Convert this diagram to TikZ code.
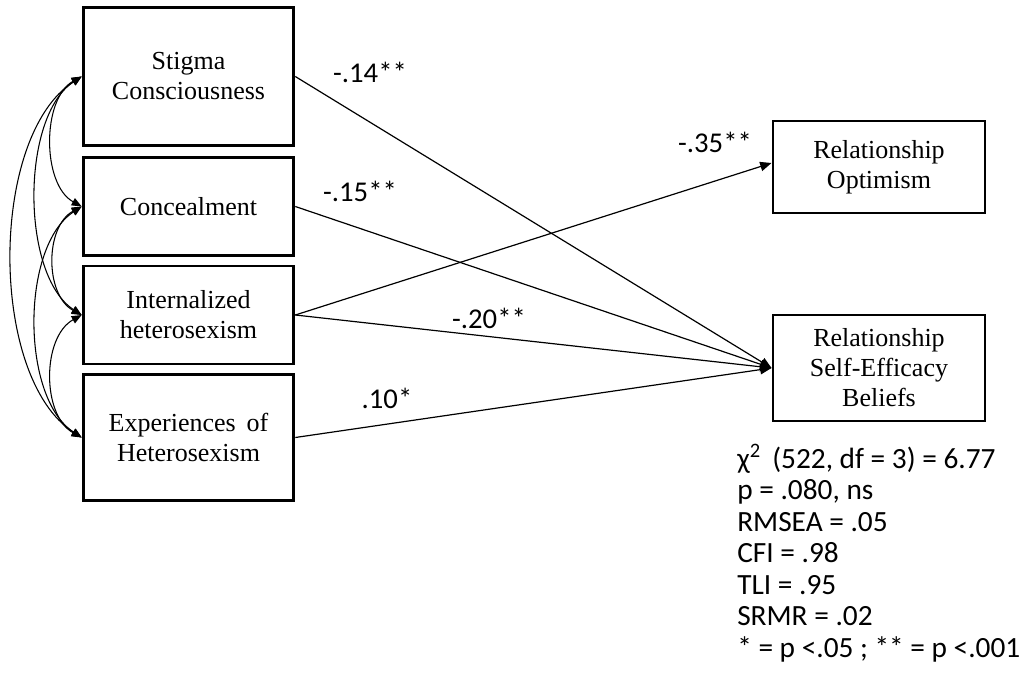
\documentclass[tikz,border=0pt]{standalone}
\usepackage{fontspec}
\setmainfont{Liberation Serif}
\newfontfamily\statfont{Carlito}
\usetikzlibrary{arrows.meta,calc}
\begin{document}
\begin{tikzpicture}[x=0.75pt,y=-0.75pt,
  var/.style={draw,line width=2.2pt,rectangle,align=center,inner sep=2pt,
    font=\fontsize{19.5}{22.5}\selectfont},
  path/.style={line width=0.9pt,-{Triangle[length=8.5pt,width=7pt]}},
  cov/.style={line width=0.8pt,{Triangle[length=7.5pt,width=6pt]}-{Triangle[length=7.5pt,width=6pt]}},
  coef/.style={font=\statfont\fontsize{21.5}{25}\selectfont,inner sep=0pt},
  fitline/.style={font=\statfont\fontsize{22}{25}\selectfont,inner sep=0pt,anchor=base west}]
\useasboundingbox (0,0) rectangle (1026,689);

% exogenous variables
\node[var,minimum width=158pt,minimum height=104pt] (sc) at (188.5,76.5) {Stigma\\Consciousness};
\node[var,minimum width=158pt,minimum height=74pt] (co) at (188.5,206.5) {Concealment};
\node[var,minimum width=158pt,minimum height=73.5pt] (ih) at (188.5,315) {Internalized\\heterosexism};
\node[var,minimum width=158pt,minimum height=95pt] (eh) at (188.5,437.5) {Experiences\, of\\Heterosexism};

% outcomes
\node[var,minimum width=159pt,minimum height=69pt] (ro) at (879,167) {Relationship\\Optimism};
\node[var,minimum width=159pt,minimum height=79.5pt] (se) at (879,368) {Relationship\\Self-Efficacy\\Beliefs};

% covariances among predictors
\draw[cov] (sc.west) .. controls +(-40,22) and +(-40,-22) .. (co.west);
\draw[cov] (sc.west) .. controls +(-61,40) and +(-61,-40) .. (ih.west);
\draw[cov] (sc.west) .. controls +(-93,60) and +(-93,-60) .. (eh.west);
\draw[cov] (co.west) .. controls +(-37,20) and +(-37,-20) .. (ih.west);
\draw[cov] (co.west) .. controls +(-61,40) and +(-61,-40) .. (eh.west);
\draw[cov] (ih.west) .. controls +(-40,22) and +(-40,-22) .. (eh.west);

% structural paths
\draw[path] (sc.east) -- (se.west);
\draw[path] (co.east) -- (se.west);
\draw[path] (ih.east) -- ($(ro.west)+(0,-4)$);
\draw[path] (ih.east) -- (se.west);
\draw[path] (eh.east) -- (se.west);

% path coefficients
\node[coef] (c1) at (370,72) {-.14**};
\node[coef] (c2) at (360,191) {-.15**};
\node[coef] (c3) at (715,142) {-.35**};
\node[coef] (c4) at (489,318) {-.20**};
\node[coef] (c5) at (387,398) {.10*};

% model fit
\node[fitline] (f1) at (737,468) {\makebox[26.25pt][l]{χ\textsuperscript{2}}(522, df = 3) = 6.77};
\node[fitline] (f2) at (737,499.5) {p = .080, ns};
\node[fitline] (f3) at (737,531) {RMSEA = .05};
\node[fitline] (f4) at (737,562.5) {CFI = .98};
\node[fitline] (f5) at (737,594) {TLI = .95};
\node[fitline] (f6) at (737,625.5) {SRMR = .02};
\node[fitline] (f7) at (737,657) {* = p <.05 ; ** = p <.001};
\end{tikzpicture}
\end{document}
